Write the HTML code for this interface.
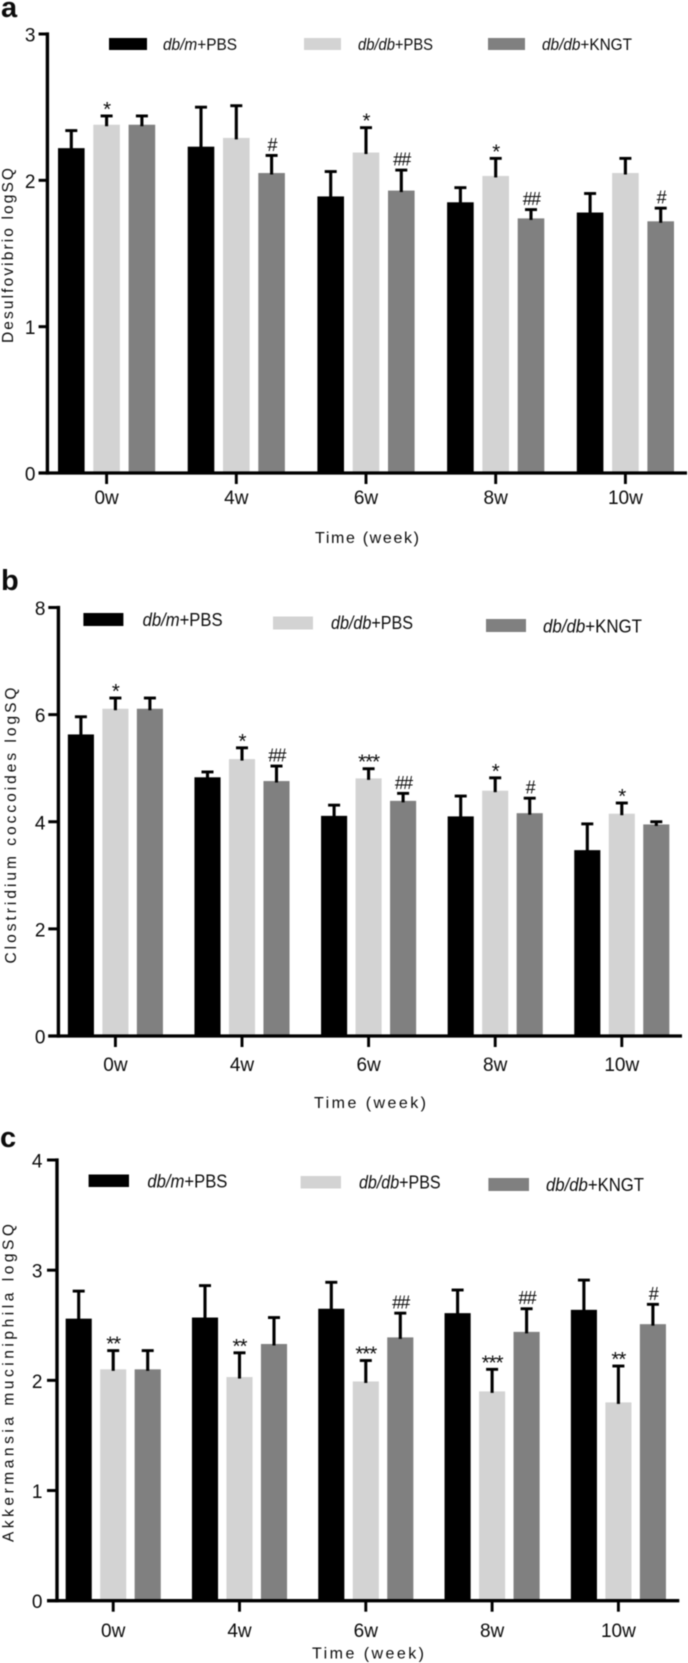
<!DOCTYPE html>
<html>
<head>
<meta charset="utf-8">
<style>
html,body{margin:0;padding:0;background:#fff;}
#figure{display:block;filter:blur(0.4px);}
text{font-family:"Liberation Sans",sans-serif;fill:#0c0c0c;}
</style>
</head>
<body>
<svg id="figure" width="688" height="1663" viewBox="0 0 688 1663" xmlns="http://www.w3.org/2000/svg">
  <text x="1" y="17" font-size="29" font-weight="bold">a</text>
  <text x="1" y="590" font-size="29" font-weight="bold">b</text>
  <text x="0" y="1147" font-size="29" font-weight="bold">c</text>

  <g>
    <rect x="109" y="38" width="38" height="12" fill="#000"/>
    <text x="163" y="50" font-size="17" textLength="74" lengthAdjust="spacingAndGlyphs"><tspan font-style="italic">db/m</tspan>+PBS</text>
    <rect x="304" y="38" width="37" height="12" fill="#d3d3d3"/>
    <text x="358" y="50" font-size="17" textLength="75" lengthAdjust="spacingAndGlyphs"><tspan font-style="italic">db/db</tspan>+PBS</text>
    <rect x="488" y="38" width="37" height="12" fill="#808080"/>
    <text x="542" y="50" font-size="17" textLength="90" lengthAdjust="spacingAndGlyphs"><tspan font-style="italic">db/db</tspan>+KNGT</text>
  </g>
  <g>
    <rect x="83.4" y="613" width="40" height="13" fill="#000"/>
    <text x="142.6" y="626" font-size="18" textLength="80" lengthAdjust="spacingAndGlyphs"><tspan font-style="italic">db/m</tspan>+PBS</text>
    <rect x="273" y="616.5" width="40" height="13" fill="#d3d3d3"/>
    <text x="331" y="629" font-size="18" textLength="82" lengthAdjust="spacingAndGlyphs"><tspan font-style="italic">db/db</tspan>+PBS</text>
    <rect x="486" y="619" width="40" height="13" fill="#808080"/>
    <text x="543" y="632.5" font-size="18" textLength="99" lengthAdjust="spacingAndGlyphs"><tspan font-style="italic">db/db</tspan>+KNGT</text>
  </g>
  <g>
    <rect x="88.6" y="1174.5" width="40.4" height="12.5" fill="#000"/>
    <text x="147.4" y="1187.5" font-size="18" textLength="80" lengthAdjust="spacingAndGlyphs"><tspan font-style="italic">db/m</tspan>+PBS</text>
    <rect x="300.6" y="1176" width="40.4" height="12.5" fill="#d3d3d3"/>
    <text x="359" y="1188.6" font-size="18" textLength="81.6" lengthAdjust="spacingAndGlyphs"><tspan font-style="italic">db/db</tspan>+PBS</text>
    <rect x="488.4" y="1178" width="40.6" height="13" fill="#808080"/>
    <text x="546" y="1191" font-size="18" textLength="98" lengthAdjust="spacingAndGlyphs"><tspan font-style="italic">db/db</tspan>+KNGT</text>
  </g>
</svg>
<script>
const categories = ['0w', '4w', '6w', '8w', '10w'];
const seriesNames = ['dbm-pbs', 'dbdb-pbs', 'dbdb-kngt'];

const aTicks = [0, 1, 2, 3];
const aDbmPbs = [2.22, 2.23, 1.89, 1.85, 1.78];
const aDbmPbsErr = [0.12, 0.27, 0.17, 0.10, 0.13];
const aDbdbPbs = [2.38, 2.29, 2.19, 2.03, 2.05];
const aDbdbPbsErr = [0.06, 0.22, 0.17, 0.12, 0.10];
const aDbdbKngt = [2.38, 2.05, 1.93, 1.74, 1.72];
const aDbdbKngtErr = [0.06, 0.12, 0.14, 0.06, 0.09];
const aPbsMarks = ['*', '', '*', '*', ''];
const aKngtMarks = ['', '#', '##', '##', '#'];

const bTicks = [0, 2, 4, 6, 8];
const bDbmPbs = [5.63, 4.83, 4.11, 4.10, 3.47];
const bDbmPbsErr = [0.33, 0.10, 0.20, 0.38, 0.49];
const bDbdbPbs = [6.11, 5.17, 4.81, 4.58, 4.15];
const bDbdbPbsErr = [0.20, 0.21, 0.18, 0.24, 0.20];
const bDbdbKngt = [6.11, 4.76, 4.39, 4.16, 3.95];
const bDbdbKngtErr = [0.20, 0.28, 0.14, 0.28, 0.05];
const bPbsMarks = ['*', '*', '***', '*', '*'];
const bKngtMarks = ['', '##', '##', '#', ''];

const cTicks = [0, 1, 2, 3, 4];
const cDbmPbs = [2.56, 2.57, 2.65, 2.61, 2.64];
const cDbmPbsErr = [0.25, 0.29, 0.24, 0.21, 0.27];
const cDbdbPbs = [2.10, 2.03, 1.99, 1.90, 1.80];
const cDbdbPbsErr = [0.17, 0.22, 0.19, 0.20, 0.33];
const cDbdbKngt = [2.10, 2.33, 2.39, 2.44, 2.51];
const cDbdbKngtErr = [0.17, 0.24, 0.22, 0.21, 0.18];
const cPbsMarks = ['**', '**', '***', '***', '**'];
const cKngtMarks = ['', '', '##', '##', '#'];

const NS = 'http://www.w3.org/2000/svg';
const svg = document.getElementById('figure');
const colors = ['#000000', '#d3d3d3', '#808080'];

function make(parent, tag, attrs, txt) {
  const node = document.createElementNS(NS, tag);
  for (const k in attrs) node.setAttribute(k, attrs[k]);
  if (txt !== undefined) node.textContent = txt;
  parent.appendChild(node);
  return node;
}

function drawPanel(p) {
  const g = make(svg, 'g', {});
  
  

  const yScale = v => p.y0 - (v / p.yMax) * (p.y0 - p.yTop);
  const xCenter = i => p.cx + i * p.groupStep;
  const xBar = (i, s) => xCenter(i) + (s - 1) * p.barStep;

  p.series.forEach((vals, s) => {
    vals.forEach((v, i) => {
      const x = xBar(i, s);
      const top = yScale(v);
      const errTop = yScale(v + p.errors[s][i]);

      let el = make(g, 'rect', {x: x - p.barW / 2, y: top, width: p.barW, height: p.y0 - top, fill: colors[s]});
      
      

      el = make(g, 'line', {x1: x, x2: x, y1: top + 1.5, y2: errTop, stroke: '#000', 'stroke-width': 3.1});
      
      

      el = make(g, 'line', {x1: x - 6, x2: x + 6, y1: errTop, y2: errTop, stroke: '#000', 'stroke-width': 2.9});
      
      
    });
  });

  [[1, p.pbsMarks], [2, p.kngtMarks]].forEach(([s, marks]) => {
    marks.forEach((m, i) => {
      if (!m) return;
      const capY = yScale(p.series[s][i] + p.errors[s][i]);
      const isHash = m[0] === '#';
      const el = make(g, 'text', {
        x: xBar(i, s), y: capY - (isHash ? 4.5 : 0), 'text-anchor': 'middle',
        'font-size': isHash ? 18 : 20.5, 'letter-spacing': isHash ? -1.8 : -1
      }, m);
      
      
    });
  });

  let axis = make(g, 'line', {x1: p.axisX, x2: p.axisX, y1: p.yTop - 1.6, y2: p.y0 + 1.6, stroke: '#000', 'stroke-width': 3.4});
  
  

  axis = make(g, 'line', {x1: p.xStart, x2: p.xEnd, y1: p.y0, y2: p.y0, stroke: '#000', 'stroke-width': 3.3});
  
  

  p.ticks.forEach(t => {
    const y = yScale(t);
    let el = make(g, 'line', {x1: p.xStart, x2: p.axisX, y1: y, y2: y, stroke: '#000', 'stroke-width': 3});
    
    

    el = make(g, 'text', {x: p.labelRight, y: y + 7.5, 'text-anchor': 'end', 'font-size': 19}, String(t));
    
    
  });

  categories.forEach((c, i) => {
    const x = xCenter(i);
    let el = make(g, 'line', {x1: x, x2: x, y1: p.y0, y2: p.y0 + 11, stroke: '#000', 'stroke-width': 2.9});
    
    

    el = make(g, 'text', {x: x, y: p.xLabelY, 'text-anchor': 'middle', 'font-size': 19}, c);
    
    
  });

  let title = make(g, 'text', {
    x: p.xTitleX, y: p.xTitleY, 'font-size': 16,
    textLength: p.xTitleW, lengthAdjust: 'spacing'
  }, 'Time (week)');
  
  

  title = make(g, 'text', {
    transform: 'translate(' + p.yTitleX + ',' + p.yTitleBottom + ') rotate(-90)',
    x: 0, y: 0, 'font-size': 15.5,
    textLength: p.yTitleLen, lengthAdjust: 'spacing'
  }, p.yTitle);
  
  
}

drawPanel({
  id: 'a', yMax: 3, ticks: aTicks, yTop: 34, y0: 473,
  axisX: 47.4, xStart: 38.6, xEnd: 687, labelRight: 35.5,
  cx: 106.6, groupStep: 129.7, barStep: 35.3, barW: 26.6,
  series: [aDbmPbs, aDbdbPbs, aDbdbKngt],
  errors: [aDbmPbsErr, aDbdbPbsErr, aDbdbKngtErr],
  pbsMarks: aPbsMarks, kngtMarks: aKngtMarks,
  xLabelY: 504, xTitleX: 315, xTitleY: 543, xTitleW: 104,
  yTitle: 'Desulfovibrio logSQ', yTitleX: 13, yTitleBottom: 343, yTitleLen: 175
});
drawPanel({
  id: 'b', yMax: 8, ticks: bTicks, yTop: 607.5, y0: 1036,
  axisX: 58.4, xStart: 48.3, xEnd: 682, labelRight: 45.5,
  cx: 115.4, groupStep: 126.6, barStep: 34.5, barW: 26.1,
  series: [bDbmPbs, bDbdbPbs, bDbdbKngt],
  errors: [bDbmPbsErr, bDbdbPbsErr, bDbdbKngtErr],
  pbsMarks: bPbsMarks, kngtMarks: bKngtMarks,
  xLabelY: 1071, xTitleX: 314, xTitleY: 1108, xTitleW: 112,
  yTitle: 'Clostridium coccoides logSQ', yTitleX: 16, yTitleBottom: 963.5, yTitleLen: 276
});
drawPanel({
  id: 'c', yMax: 4, ticks: cTicks, yTop: 1160, y0: 1600.7,
  axisX: 57, xStart: 47, xEnd: 679.3, labelRight: 42.5,
  cx: 113.2, groupStep: 126.3, barStep: 34.5, barW: 26.1,
  series: [cDbmPbs, cDbdbPbs, cDbdbKngt],
  errors: [cDbmPbsErr, cDbdbPbsErr, cDbdbKngtErr],
  pbsMarks: cPbsMarks, kngtMarks: cKngtMarks,
  xLabelY: 1637, xTitleX: 312, xTitleY: 1658.5, xTitleW: 112,
  yTitle: 'Akkermansia muciniphila logSQ', yTitleX: 13.5, yTitleBottom: 1542, yTitleLen: 318
});
</script>
</body>
</html>
